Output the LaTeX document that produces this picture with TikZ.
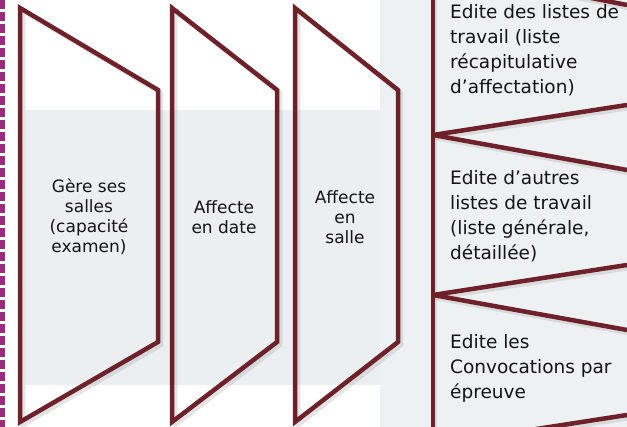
\documentclass[tikz,border=0pt]{standalone}
\usepackage{fontspec}
\setmainfont{DejaVu Sans}
\definecolor{maroon}{HTML}{6E2128}
\definecolor{bandgray}{HTML}{ECEFF2}
\definecolor{rightgray}{HTML}{EEF1F4}
\definecolor{purpdash}{HTML}{9B2C7E}
\definecolor{txt}{HTML}{141414}
\tikzset{
  panel/.style={draw=maroon, line width=4.5pt, line join=miter},
  zig/.style={draw=maroon, line width=4.5pt, line join=bevel},
  panelshadow/.style={draw=black!35, line width=4.5pt, opacity=0.3, line join=miter},
  zigshadow/.style={draw=black!35, line width=4.5pt, opacity=0.3, line join=bevel},
  lefttext/.style={align=center, text=txt, font=\fontsize{17}{20}\selectfont, inner sep=0pt},
  righttext/.style={align=left, text=txt, font=\fontsize{18.5}{25}\selectfont, inner sep=0pt, anchor=north west},
}
\begin{document}
\begin{tikzpicture}[x=1pt,y=-1pt]
\useasboundingbox (0,0) rectangle (627,427);
\fill[white] (0,0) rectangle (627,427);
% background bands
\fill[bandgray] (25,110) rectangle (380,385);
\fill[rightgray] (380,0) rectangle (627,427);
% dashed purple border
\draw[purpdash, line width=5pt, dash pattern=on 9pt off 3pt] (2,0) -- (2,427);
% shadows
\foreach \a/\b in {20/158,172/277,295/398}{
  \draw[panelshadow, shift={(3,3)}] (\a,8) -- (\b,90) -- (\b,342) -- (\a,422) -- cycle;
}
% panels
\draw[panel] (20,8) -- (158,90) -- (158,342) -- (20,422) -- cycle;
\draw[panel] (172,8) -- (277,90) -- (277,342) -- (172,422) -- cycle;
\draw[panel] (295,8) -- (398,90) -- (398,342) -- (295,422) -- cycle;
% right zigzag
\begin{scope}[shift={(2,3)}]
\draw[zigshadow] (433,-10) -- (433,440);
\draw[zigshadow] (627,5) -- (433,-33);
\draw[zigshadow] (627,105) -- (433,135) -- (627,170);
\draw[zigshadow] (627,265) -- (433,295) -- (627,330);
\draw[zigshadow] (627,415) -- (433,445);
\end{scope}
\draw[zig] (433,-10) -- (433,440);
\draw[zig] (627,5) -- (433,-33);
\draw[zig] (627,105) -- (433,135) -- (627,170);
\draw[zig] (627,265) -- (433,295) -- (627,330);
\draw[zig] (627,415) -- (433,445);
% texts
\node[lefttext] (t1) at (89,217) {Gère ses\\salles\\(capacité\\examen)};
\node[lefttext] (t2) at (224,217) {Affecte\\en date};
\node[lefttext] (t3) at (345,217) {Affecte\\en\\salle};
\node[righttext] (r1) at (450,4) {Edite des listes de\\travail (liste\\récapitulative\\d’affectation)};
\node[righttext] (r2) at (450,170) {Edite d’autres\\listes de travail\\(liste générale,\\détaillée)};
\node[righttext] (r3) at (450,334) {Edite les\\Convocations par\\épreuve};
\end{tikzpicture}
\end{document}
